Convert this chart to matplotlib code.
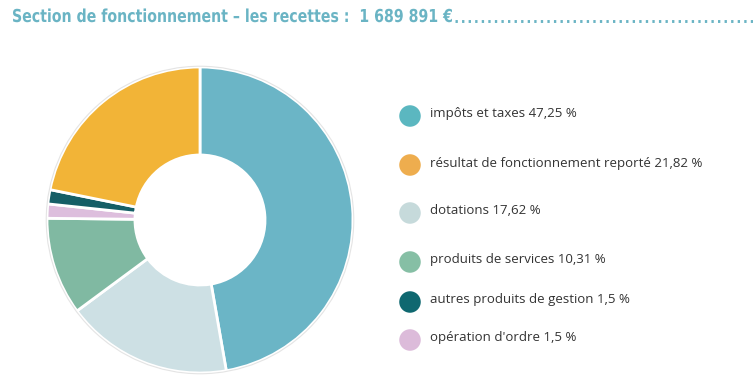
import matplotlib
matplotlib.use("Agg")
import matplotlib.pyplot as plt
from matplotlib.textpath import TextPath
from matplotlib.patches import PathPatch
from matplotlib.font_manager import FontProperties
from matplotlib.transforms import Affine2D

# data, clockwise from 12 o'clock
labels = ["impôts et taxes", "dotations", "produits de services",
          "opération d'ordre", "autres produits de gestion",
          "résultat de fonctionnement reporté"]
shares = [47.25, 17.62, 10.31, 1.5, 1.5, 21.82]
share_text = ["47,25", "17,62", "10,31", "1,5", "1,5", "21,82"]
pie_colors = ["#6BB5C6", "#CDE0E4", "#80B9A2", "#DDBEDD", "#155E66", "#F2B437"]
legend_colors = ["#5BB7C0", "#C6DADB", "#86BFA5", "#DCBBDA", "#0F6870", "#EEAD4E"]

# legend order as in the original
legend_order = [0, 5, 1, 2, 4, 3]

title = "Section de fonctionnement – les recettes :  1 689 891 €"
accent = "#6AB4C4"

W, H = 753, 386
fig = plt.figure(figsize=(W / 100, H / 100), dpi=100)

# full-figure pixel axes for the title and the legend
bg = fig.add_axes([0, 0, 1, 1])
bg.set_xlim(0, W)
bg.set_ylim(H, 0)
bg.axis("off")

# donut
cx, cy, r = 200, 220, 153
pad = r * 1.03
ax = fig.add_axes([(cx - pad) / W, (H - cy - pad) / H, 2 * pad / W, 2 * pad / H])
ax.pie(shares, colors=pie_colors, startangle=90, counterclock=False,
       radius=1, wedgeprops=dict(width=0.575, edgecolor="white", linewidth=2))
ax.add_patch(plt.Circle((0, 0), 1.005, fill=False, edgecolor="#e4e4e4", linewidth=0.8))
ax.set_xlim(-1.03, 1.03)
ax.set_ylim(-1.03, 1.03)
ax.set_aspect("equal")
ax.axis("off")

# title: bold text squeezed horizontally to mimic a condensed face
tp = TextPath((0, 0), title, size=1, prop=FontProperties(family="DejaVu Sans", weight="bold"))
ext = tp.get_extents()
sx = 439 / ext.width
sy = 13 / 0.729
path = Affine2D().translate(-ext.x0, 0).scale(sx, -sy).translate(13, 22).transform_path(tp)
bg.add_patch(PathPatch(path, facecolor=accent, edgecolor="none"))

# dotted leader
bg.plot([455, W], [20.5, 20.5], color=accent, linewidth=2.1,
        linestyle=(0, (0.8, 1.45)), solid_capstyle="butt")

# legend
rows_y = [116, 165, 213, 262, 302, 340]
for y, i in zip(rows_y, legend_order):
    bg.scatter([410], [y], s=240, color=legend_colors[i], edgecolors="none")
    bg.text(430, y - 2, f"{labels[i]} {share_text[i]} %", color="#333333",
            fontsize=9.5, family=["Open Sans", "DejaVu Sans"], va="center", ha="left")

fig.savefig("out.png", dpi=100)
